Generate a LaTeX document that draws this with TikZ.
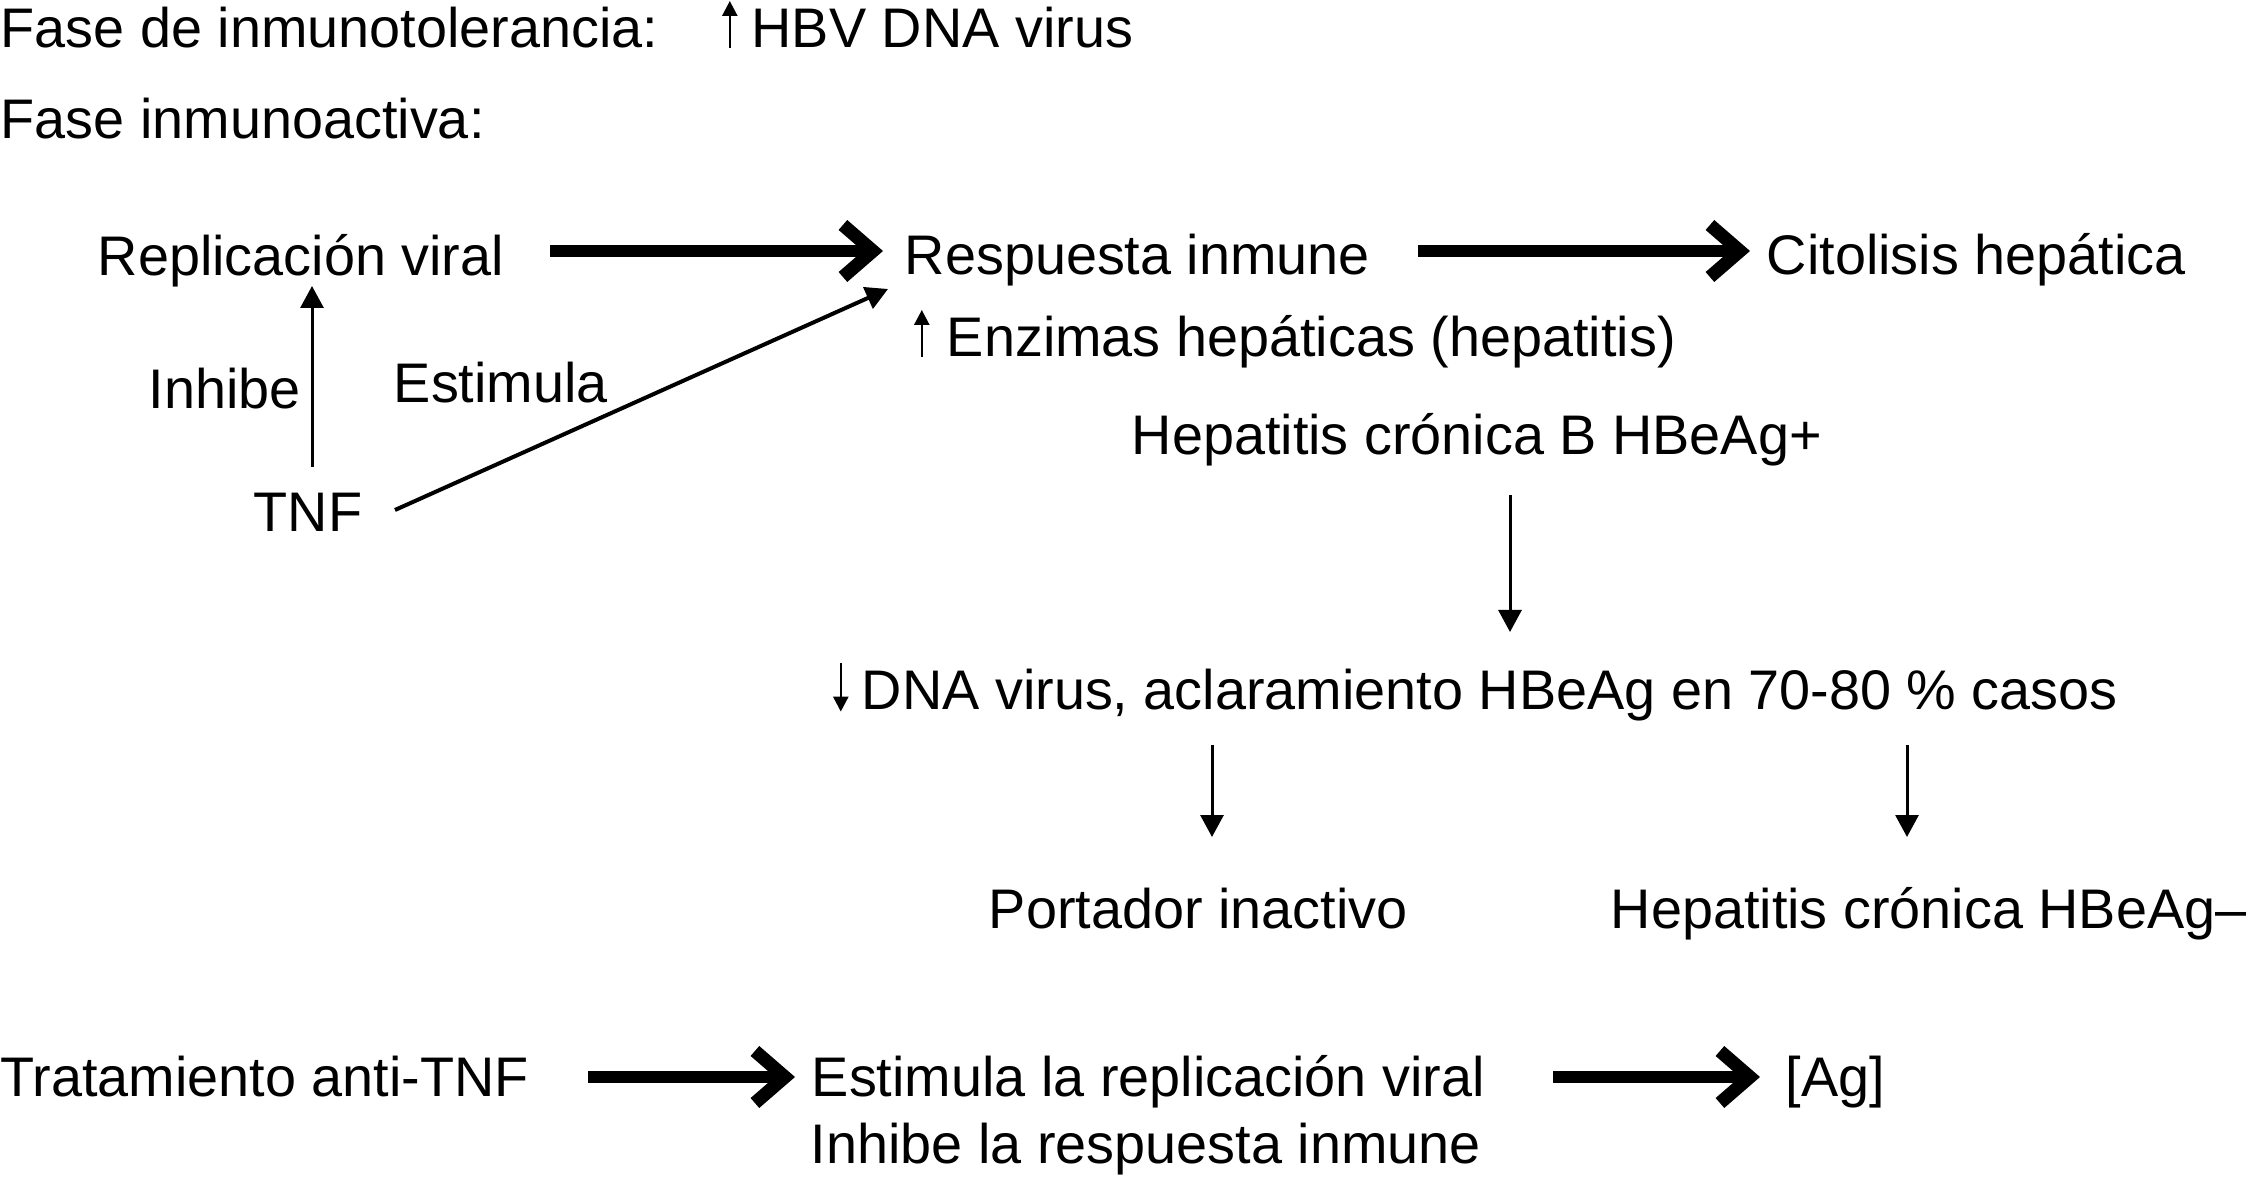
\documentclass[tikz,border=0pt]{standalone}
\usepackage{fontspec}
\setmainfont{Liberation Sans}
\usetikzlibrary{arrows.meta,calc}
\newcommand\upmark{\tikz[baseline=0pt]{\useasboundingbox (0pt,0pt) rectangle (3.75pt,11.75pt);\draw[line width=0.65pt,-{Triangle[length=3.75pt,width=3.75pt]}] (1.875pt,0pt) -- (1.875pt,11.75pt);}}
\newcommand\downmark{\tikz[baseline=0pt]{\useasboundingbox (0pt,0pt) rectangle (3.75pt,11.75pt);\draw[line width=0.65pt,-{Triangle[length=3.75pt,width=3.75pt]}] (1.875pt,11.75pt) -- (1.875pt,-0.4pt);}}
\begin{document}
\begin{tikzpicture}[x=0.25pt,y=-0.25pt,
  txt/.style={inner sep=0pt, anchor=base west, font=\fontsize{13.95pt}{16pt}\selectfont},
  thickarrow/.style={line width=3pt, -{Straight Barb[length=7.5pt,width=13pt,line width=3.3pt]}},
  thinarrow/.style={line width=0.75pt, -{Triangle[length=5.5pt,width=5.75pt]}},
  diagarrow/.style={line width=1pt, -{Triangle[length=5.5pt,width=5.75pt]}}]
\useasboundingbox (0,0) rectangle (2250,1186);
\node[txt] (fase1) at (0,48) {Fase de inmunotolerancia:};
\node[txt] (hbv) at (721.5,48) {\upmark\hspace{3.6pt}HBV DNA virus};
\node[txt] (fase2) at (0,139) {Fase inmunoactiva:};
\node[txt] (repl) at (97,276) {Replicación viral};
\node[txt] (resp) at (904,275) {Respuesta inmune};
\node[txt] (cito) at (1766,275) {Citolisis hepática};
\node[txt] (enz) at (913.5,357) {\upmark\hspace{4.4pt}Enzimas hepáticas (hepatitis)};
\node[txt] (inh) at (148,409) {Inhibe};
\node[txt] (est) at (393,403) {Estimula};
\node[txt] (tnf) at (253,532) {TNF};
\node[txt] (hepb) at (1131,455) {Hepatitis crónica B HBeAg+};
\node[txt] (dna) at (832.5,710) {\downmark\hspace{3.4pt}DNA virus, aclaramiento HBeAg en 70-80 \% casos};
\node[txt] (port) at (988,928) {Portador inactivo};
\node[txt] (hepc) at (1610,928) {Hepatitis crónica HBeAg–};
\node[txt] (trat) at (0,1096) {Tratamiento anti-TNF};
\node[txt] (estr) at (811,1096) {Estimula la replicación viral};
\node[txt] (inhr) at (810,1163) {Inhibe la respuesta inmune};
\node[txt] (ag) at (1785,1096) {[Ag]};
% thin connectors
\draw[thinarrow] ($(tnf.base west)+(59,-65)$) -- ($(repl.base west)+(215,10)$);
\draw[diagarrow] ($(tnf.base west)+(142,-22)$) -- ($(resp.base west)+(-16,14)$);
\draw[thinarrow] ($(hepb.base west)+(379,40)$) -- ($(dna.base west)+(677.5,-78)$);
\draw[thinarrow] ($(dna.base west)+(379.5,35)$) -- ($(port.base west)+(224,-91)$);
\draw[thinarrow] ($(dna.base west)+(1074.5,35)$) -- ($(hepc.base west)+(297,-91)$);
% thick connectors
\draw[thickarrow] ($(repl.base west)+(453,-25)$) -- ($(resp.base west)+(-21,-24)$);
\draw[thickarrow] ($(resp.base west)+(514,-24)$) -- ($(cito.base west)+(-16,-24)$);
\draw[thickarrow] ($(trat.base west)+(588,-19)$) -- ($(estr.base west)+(-16,-19)$);
\draw[thickarrow] ($(estr.base west)+(742,-19)$) -- ($(ag.base west)+(-25,-19)$);
\end{tikzpicture}
\end{document}
